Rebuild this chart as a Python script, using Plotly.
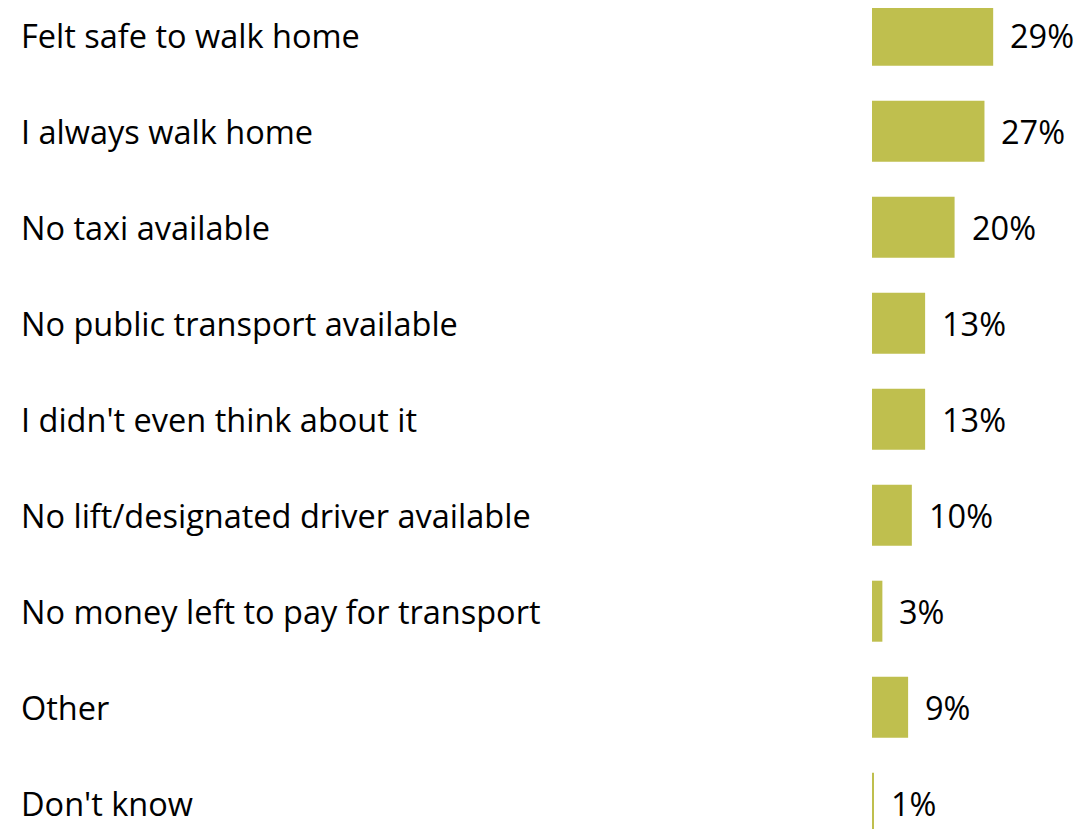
import plotly.graph_objects as go

categories = [
    "Felt safe to walk home",
    "I always walk home",
    "No taxi available",
    "No public transport available",
    "I didn't even think about it",
    "No lift/designated driver available",
    "No money left to pay for transport",
    "Other",
    "Don't know",
]
values = [29.2, 27.1, 19.9, 12.8, 12.8, 9.6, 2.5, 8.7, 0.4]
value_labels = ["29%", "27%", "20%", "13%", "13%", "10%", "3%", "9%", "1%"]

FONT = "Open Sans"
FSIZE = 32.5
W, H = 1081, 821
bar_left_px = 864
px_per_unit = 4.15
row_px = 96
first_center_px = 27.2

fig = go.Figure()
fig.add_trace(go.Bar(
    x=values,
    y=categories,
    orientation="h",
    marker=dict(color="#BFBF4E", line=dict(width=0)),
    hoverinfo="skip",
))

annotations = []
for cat, v, lab in zip(categories, values, value_labels):
    annotations.append(dict(
        x=v, y=cat, xref="x", yref="y", text=lab, showarrow=False,
        xanchor="left", yanchor="middle", xshift=15,
        font=dict(family=FONT, size=FSIZE, color="#000000"),
    ))
    annotations.append(dict(
        x=11 / W, y=cat, xref="paper", yref="y", text=cat, showarrow=False,
        xanchor="left", yanchor="middle",
        font=dict(family=FONT, size=FSIZE, color="#000000"),
    ))

top_idx = -first_center_px / row_px
bot_idx = (H - first_center_px) / row_px

fig.update_layout(
    width=W, height=H,
    margin=dict(l=0, r=0, t=0, b=0),
    paper_bgcolor="white", plot_bgcolor="white",
    showlegend=False,
    bargap=1 - 61 / row_px,
    xaxis=dict(domain=[bar_left_px / W, 1], range=[0, (W - bar_left_px) / px_per_unit],
               visible=False, showgrid=False, zeroline=False),
    yaxis=dict(range=[bot_idx, top_idx], visible=False, showgrid=False,
               categoryorder="array", categoryarray=categories),
    annotations=annotations,
)

fig.write_html("out.html")
